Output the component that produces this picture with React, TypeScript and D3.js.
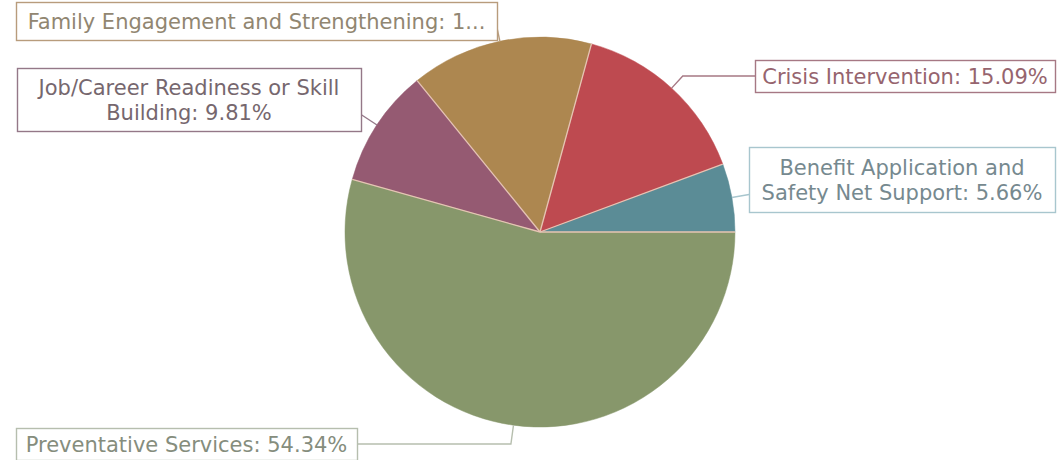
import React from "react";
import * as d3 from "d3";

const categories = [
  "Benefit Application and Safety Net Support",
  "Crisis Intervention",
  "Family Engagement and Strengthening",
  "Job/Career Readiness or Skill Building",
  "Preventative Services",
];
const values = [5.66, 15.09, 15.1, 9.81, 54.34];
const colors = ["#5b8c96", "#be4a50", "#ad8750", "#955a72", "#87976b"];
const labelLines = [
  ["Benefit Application and", "Safety Net Support: 5.66%"],
  ["Crisis Intervention: 15.09%"],
  ["Family Engagement and Strengthening: 1..."],
  ["Job/Career Readiness or Skill", "Building: 9.81%"],
  ["Preventative Services: 54.34%"],
];
const labelText = ["#76898f", "#96646e", "#918671", "#76676e", "#858d7d"];
const labelBorder = ["#a8c6ce", "#a67884", "#b89c7c", "#947888", "#b6beae"];
// label box layout [x, y, w, h]
const boxes = [
  [749, 147, 306, 65],
  [755, 60, 300, 32],
  [16, 2, 481, 38],
  [17, 68, 344, 63],
  [16, 428, 341, 32],
];

const W = 1058;
const H = 460;
const cx = 540;
const cy = 232;
const R = 195;

export default function App() {
  const pie = d3
    .pie<number>()
    .sort(null)
    .value((d) => d)
    .startAngle(Math.PI / 2)
    .endAngle(Math.PI / 2 - 2 * Math.PI);
  const arcs = pie(values);
  const arc = d3.arc<d3.PieArcDatum<number>>().innerRadius(0).outerRadius(R);

  const connectors = arcs.map((a, i) => {
    const mid = (a.startAngle + a.endAngle) / 2;
    const dx = Math.sin(mid);
    const dy = -Math.cos(mid);
    const [bx, by, bw, bh] = boxes[i];
    const sx = cx + R * dx;
    const sy = cy + R * dy;
    let hit: [number, number] | null = null;
    const cands: number[] = [];
    if (Math.abs(dx) > 1e-6) {
      cands.push((bx - cx) / dx, (bx + bw - cx) / dx);
    }
    if (Math.abs(dy) > 1e-6) {
      cands.push((by - cy) / dy, (by + bh - cy) / dy);
    }
    cands
      .filter((t) => t >= R - 2)
      .sort((p, q) => p - q)
      .forEach((t) => {
        if (hit) return;
        const x = cx + t * dx;
        const y = cy + t * dy;
        if (x >= bx - 0.5 && x <= bx + bw + 0.5 && y >= by - 0.5 && y <= by + bh + 0.5) {
          hit = [x, y];
        }
      });
    if (hit) {
      return [[sx, sy], hit];
    }
    const my = by + bh / 2;
    const t = (my - cy) / dy;
    const ex = cx + t * dx;
    const edgeX = ex > bx + bw ? bx + bw : bx;
    return [
      [sx, sy],
      [ex, my],
      [edgeX, my],
    ];
  });

  return (
    <svg
      width={W}
      height={H}
      style={{ position: "absolute", left: 0, top: 0, background: "#fff" }}
      fontFamily="Verdana, 'DejaVu Sans', sans-serif"
    >
      <g transform={`translate(${cx},${cy})`}>
        {arcs.map((a, i) => (
          <path
            key={categories[i]}
            d={arc(a) || ""}
            fill={colors[i]}
            stroke={colors[i]}
            strokeWidth={0.5}
          />
        ))}
        {arcs.map((a, i) => (
          <line
            key={"s" + i}
            x1={0}
            y1={0}
            x2={R * Math.sin(a.startAngle)}
            y2={-R * Math.cos(a.startAngle)}
            stroke="#e6c4b4"
            strokeWidth={1.3}
          />
        ))}
      </g>
      {connectors.map((pts, i) => (
        <polyline
          key={"c" + i}
          points={pts.map((p) => p.join(",")).join(" ")}
          fill="none"
          stroke={labelBorder[i]}
          strokeWidth={1.4}
        />
      ))}
      {boxes.map(([x, y, w, h], i) => {
        const lines = labelLines[i];
        const lh = 25;
        const midY = y + h / 2;
        return (
          <g key={"b" + i}>
            <rect
              x={x + 0.5}
              y={y + 0.5}
              width={w}
              height={h}
              fill="#fff"
              stroke={labelBorder[i]}
              strokeWidth={1.4}
            />
            {lines.map((ln, j) => (
              <text
                key={j}
                x={x + w / 2}
                y={midY + (j - (lines.length - 1) / 2) * lh}
                dy="0.36em"
                textAnchor="middle"
                fontSize={21}
                fill={labelText[i]}
              >
                {ln}
              </text>
            ))}
          </g>
        );
      })}
    </svg>
  );
}
